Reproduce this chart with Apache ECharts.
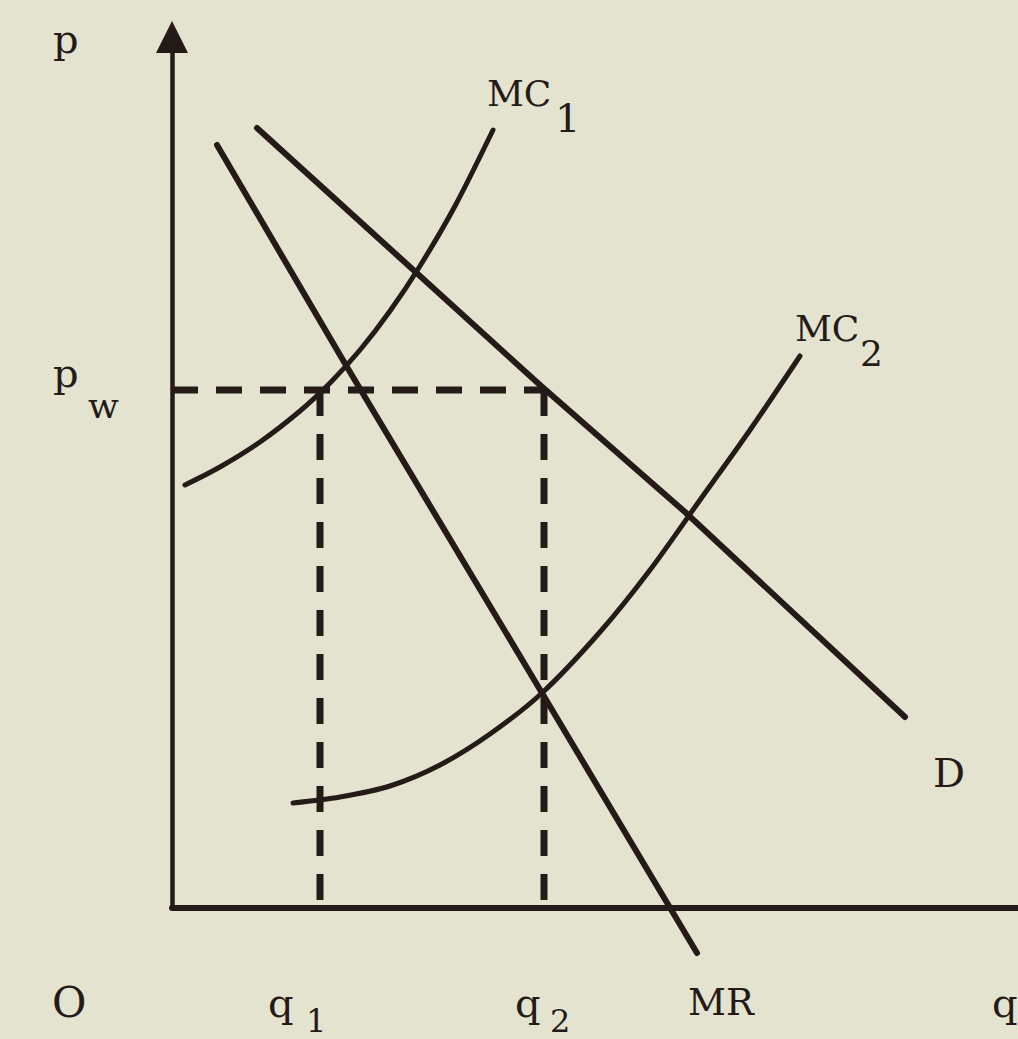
<!DOCTYPE html>
<html>
<head>
<meta charset="utf-8">
<script src="https://cdn.jsdelivr.net/npm/echarts@6/dist/echarts.min.js"></script>
<style>
  html, body { margin: 0; padding: 0; background: #e4e3cf; }
  #chart { width: 1018px; height: 1039px; }
</style>
</head>
<body>
<div id="chart"></div>
<script>
// Values (units: q to the right of the origin, p above the q axis)
const demandD   = [[85, 780], [368, 523], [513, 396], [733, 191]];
const marginalR = [[45, 763], [175, 541], [370, 215], [525, -45]];
const costMC1   = [[13, 423], [48, 441], [88, 466], [128, 497], [158, 525], [188, 558], [218, 597], [248, 642], [283, 702], [321, 778]];
const costMC2   = [[121, 105], [168, 111], [218, 122], [268, 143], [318, 174], [370, 215], [428, 276], [478, 338], [528, 408], [578, 478], [628, 552]];
const worldPrice = 518;   // p_w
const qOne = 148;         // q_1
const qTwo = 372;         // q_2
const axisNames = { p: 'p', q: 'q', origin: 'O' };
const curveNames = ['D', 'MR', 'MC', 'MC'];

const ink = '#241b18';
const font = 'DejaVu Serif';

const chart = echarts.init(document.getElementById('chart'), null, { renderer: 'svg' });

function curve(data, width, smooth, clip) {
  return {
    type: 'line', data: data, symbol: 'none', smooth: smooth, clip: clip,
    lineStyle: { color: ink, width: width, cap: 'round', join: 'round' },
    silent: true, animation: false
  };
}
function dashed(data) {
  return {
    type: 'line', data: data, symbol: 'none', clip: false,
    lineStyle: { color: ink, width: 7, type: [26, 18], cap: 'butt' },
    silent: true, animation: false
  };
}
function txt(s, x, baseline, size) {
  return {
    type: 'text', x: x, y: baseline - 0.35 * size, silent: true,
    style: { text: s, fill: ink, font: size + 'px "' + font + '"', verticalAlign: 'middle', align: 'left' }
  };
}

const option = {
  backgroundColor: '#e4e3cf',
  animation: false,
  grid: { left: 172, right: 0, top: 37, bottom: 131 },
  xAxis: {
    type: 'value', min: 0, max: 846,
    axisLine: { show: true, lineStyle: { color: ink, width: 6 } },
    axisTick: { show: false }, axisLabel: { show: false }, splitLine: { show: false }
  },
  yAxis: {
    type: 'value', min: 0, max: 871,
    axisLine: { show: true, symbol: ['none', 'triangle'], symbolSize: [32, 32], lineStyle: { color: ink, width: 4.5 } },
    axisTick: { show: false }, axisLabel: { show: false }, splitLine: { show: false }
  },
  series: [
    dashed([[0, worldPrice], [qTwo, worldPrice]]),
    dashed([[qOne, worldPrice], [qOne, 0]]),
    dashed([[qTwo, worldPrice], [qTwo, 0]]),
    curve(demandD, 6, false, true),
    curve(marginalR, 6, false, false),
    curve(costMC1, 5, 0.3, true),
    curve(costMC2, 5, 0.3, true)
  ],
  graphic: [
    txt(axisNames.p, 53, 53, 40),
    txt('p', 53, 387, 40),
    txt('w', 88, 418, 36),
    txt(axisNames.origin, 52, 1017, 42),
    txt('q', 268, 1017, 40),
    txt('1', 306, 1032, 32),
    txt('q', 515, 1017, 40),
    txt('2', 550, 1032, 32),
    txt(curveNames[1], 688, 1015, 37),
    txt(axisNames.q, 992, 1017, 40),
    txt(curveNames[0], 933, 787, 40),
    txt(curveNames[2], 487, 106, 36),
    txt('1', 555, 132, 40),
    txt(curveNames[3], 795, 341, 36),
    txt('2', 860, 366, 36)
  ]
};
chart.setOption(option);
</script>
</body>
</html>
